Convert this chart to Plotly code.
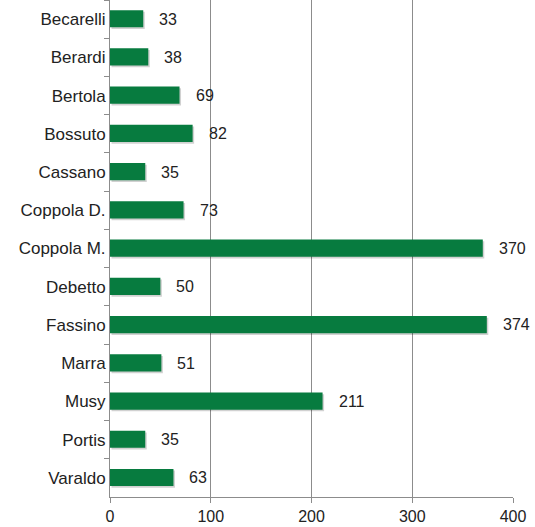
import plotly.graph_objects as go

names = ["Becarelli", "Berardi", "Bertola", "Bossuto", "Cassano", "Coppola D.",
         "Coppola M.", "Debetto", "Fassino", "Marra", "Musy", "Portis", "Varaldo"]
votes = [33, 38, 69, 82, 35, 73, 370, 50, 374, 51, 211, 35, 63]
x_ticks = [0, 100, 200, 300, 400]

BAR_GREEN = "#077B3F"
GRID = "#8c8c8c"
FONT = "Liberation Sans, Arial, sans-serif"

fig = go.Figure()

# soft drop shadow under each bar
fig.add_trace(go.Bar(
    x=votes, y=names, orientation="h", base=1.5,
    width=0.45, offset=-0.19,
    marker_color="rgba(0,0,0,0.18)", marker_line_width=0,
    hoverinfo="skip", showlegend=False,
))

fig.add_trace(go.Bar(
    x=votes, y=names, orientation="h",
    width=0.45, offset=-0.235,
    marker_color=BAR_GREEN, marker_line_width=0,
    showlegend=False,
))

for n, v in zip(names, votes):
    fig.add_annotation(x=v, y=n, text=str(v), showarrow=False,
                       xanchor="left", xshift=14,
                       font=dict(family=FONT, size=16, color="#222"))

fig.update_layout(
    width=535, height=527,
    margin=dict(l=110, r=22, t=0, b=30),
    plot_bgcolor="white", paper_bgcolor="white",
    barmode="overlay",
    font=dict(family=FONT, size=16, color="#222"),
)

fig.update_xaxes(
    range=[0, 400], tickvals=x_ticks,
    showgrid=True, gridcolor=GRID, gridwidth=1,
    showline=True, linecolor=GRID, linewidth=1,
    ticks="outside", ticklen=5, tickcolor=GRID,
    ticklabelstandoff=0, tickfont=dict(size=16),
    zeroline=False, automargin=False,
)
fig.update_yaxes(
    autorange="reversed",
    categoryorder="array", categoryarray=names,
    showline=True, linecolor=GRID, linewidth=1,
    ticks="outside", ticklen=5, tickcolor=GRID,
    tickson="boundaries", ticklabelstandoff=0,
    tickfont=dict(size=17),
    showgrid=False, automargin=False,
)

# drop the browser's default body margin so the chart sits at the page corner
fig.write_html("out.html", config={"displayModeBar": False},
               post_script="document.body.style.margin='0';")
